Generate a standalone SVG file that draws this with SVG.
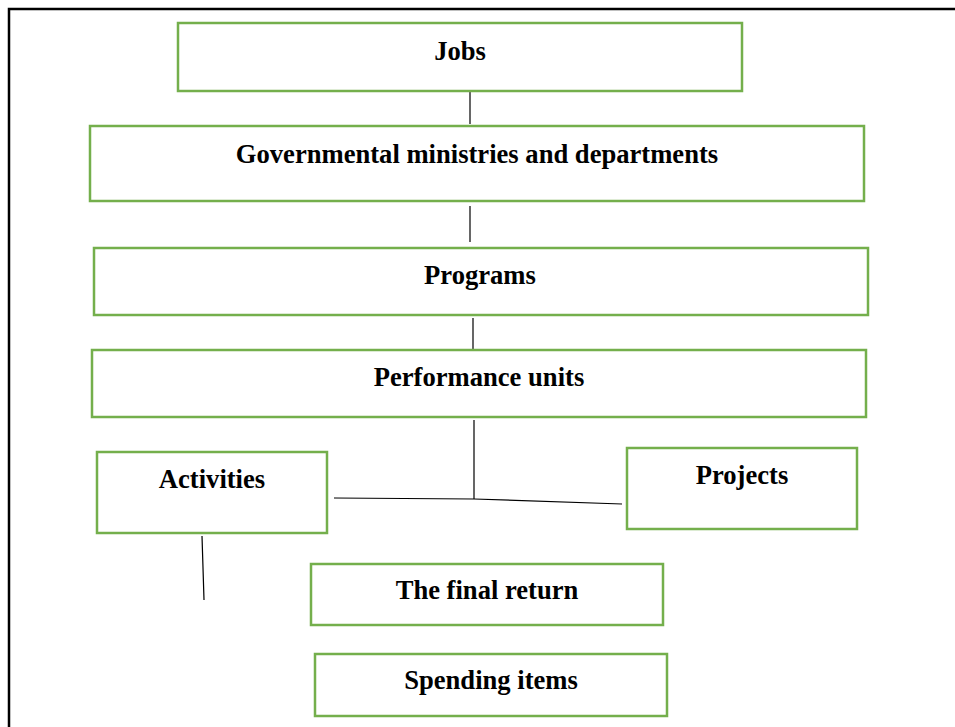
<svg xmlns="http://www.w3.org/2000/svg" width="955" height="727" viewBox="0 0 955 727">
<style>
.box{fill:#fff;stroke:#74AF4C;stroke-width:2.5}
.lbl{font-family:"Liberation Serif","Times New Roman",serif;font-weight:bold;font-size:26.6px;fill:#000;text-anchor:middle}
.con{stroke:#000;stroke-width:1.2;fill:none}
</style>
<rect width="955" height="727" fill="#fff"/>
<path d="M9 727 V9 H955" fill="none" stroke="#000" stroke-width="2.5"/>
<g id="connectors">
<line class="con" x1="470" y1="92" x2="470" y2="124"/>
<line class="con" x1="470" y1="206" x2="470" y2="242"/>
<line class="con" x1="473" y1="318" x2="473" y2="352"/>
<line class="con" x1="474" y1="420" x2="474" y2="499"/>
<polyline class="con" points="334,498 474,499 622,504"/>
<line class="con" x1="202" y1="536" x2="204" y2="600"/>
</g>
<g id="jobs"><rect class="box" x="178" y="23" width="564" height="68"/><text class="lbl" x="460" y="60">Jobs</text></g>
<g id="ministries"><rect class="box" x="90" y="126" width="774" height="75"/><text class="lbl" x="477" y="163">Governmental ministries and departments</text></g>
<g id="programs"><rect class="box" x="94" y="248" width="774" height="67"/><text class="lbl" x="480" y="284">Programs</text></g>
<g id="performance"><rect class="box" x="92" y="350" width="774" height="67"/><text class="lbl" x="479" y="386">Performance units</text></g>
<g id="activities"><rect class="box" x="97" y="452" width="230" height="81"/><text class="lbl" x="212" y="488">Activities</text></g>
<g id="projects"><rect class="box" x="627" y="448" width="230" height="81"/><text class="lbl" x="742" y="484">Projects</text></g>
<g id="final-return"><rect class="box" x="311" y="564" width="352" height="61"/><text class="lbl" x="487" y="599">The final return</text></g>
<g id="spending"><rect class="box" x="315" y="654" width="352" height="62"/><text class="lbl" x="491" y="689">Spending items</text></g>
</svg>
